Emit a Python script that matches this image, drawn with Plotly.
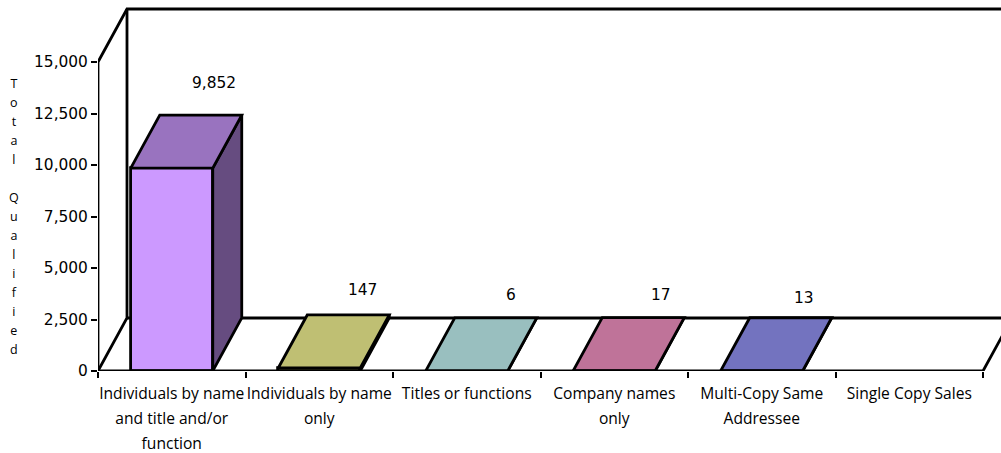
import plotly.graph_objects as go

categories = [
    "Individuals by name<br>and title and/or<br>function",
    "Individuals by name<br>only",
    "Titles or functions",
    "Company names<br>only",
    "Multi-Copy Same<br>Addressee",
    "Single Copy Sales",
]
values = [9852, 147, 6, 17, 13, None]
y_ticks = [0, 2500, 5000, 7500, 10000, 12500, 15000]
axis_title = "Total Qualified"
front_colors = ["#CC99FF", "#FFFF99", "#CCFFFF", "#FF99CC", "#9999FF", "#FFFFFF"]
top_colors = ["#9973BF", "#BFBF73", "#99BFBF", "#BF7399", "#7373BF", "#FFFFFF"]
side_colors = ["#664C80", "#80804D", "#668080", "#804D66", "#4D4D80", "#FFFFFF"]
label_xshift = [42, 43, 44, 47, 42, 0]
label_yshift = [32, 25, 23, 23, 20, 0]

W, H = 1001, 453
PLOT_L, PLOT_B = 98, 82
CAT_PX = 147.5
PX_PER_VAL = 309 / 15000
DX = 29 / CAT_PX
DY = 53 / PX_PER_VAL
BAR_W = 82 / CAT_PX
LW = 2.8
FONT = "Open Sans"
NUM_FONT = "DejaVu Sans"
X0, X1 = -0.5, len(categories) - 0.5
XMAX = X0 + (W - PLOT_L) / CAT_PX
YMAX = (H - PLOT_B) / PX_PER_VAL
YTOP = 15000
xs = list(range(len(categories)))

fig = go.Figure()

# front faces
fig.add_trace(go.Bar(
    x=xs, y=[v if v is not None else 0 for v in values], width=BAR_W,
    marker=dict(color=front_colors, line=dict(color="black", width=[LW] * 5 + [0])),
    hoverinfo="skip", showlegend=False,
))

# top and side faces
for i, v in enumerate(values):
    if v is None:
        continue
    l, r = i - BAR_W / 2, i + BAR_W / 2
    fig.add_trace(go.Scatter(
        x=[r, r + DX, r + DX, r, r], y=[0, DY, v + DY, v, 0],
        mode="lines", fill="toself", fillcolor=side_colors[i],
        line=dict(color="black", width=LW), hoverinfo="skip", showlegend=False,
    ))
    fig.add_trace(go.Scatter(
        x=[l, l + DX, r + DX, r, l], y=[v, v + DY, v + DY, v, v],
        mode="lines", fill="toself", fillcolor=top_colors[i],
        line=dict(color="black", width=LW), hoverinfo="skip", showlegend=False,
    ))

# chart walls that never cross a bar
wall = dict(mode="lines", line=dict(color="black", width=LW), hoverinfo="skip",
            showlegend=False, cliponaxis=False)
fig.add_trace(go.Scatter(x=[X0, X0, X0 + DX, XMAX], y=[0, YTOP, YTOP + DY, YTOP + DY], **wall))
fig.add_trace(go.Scatter(x=[X0, X0 + DX, X0 + DX], y=[0, DY, YTOP + DY], **wall))
fig.add_trace(go.Scatter(x=[X0, X1, X1 + DX], y=[0, 0, DY], **wall))

# back edge of the floor passes behind the bars
fig.add_shape(type="line", xref="x", yref="y", x0=X0 + DX, x1=XMAX, y0=DY, y1=DY,
              layer="below", line=dict(color="black", width=LW))

for i, v in enumerate(values):
    if v is None:
        continue
    fig.add_annotation(
        x=i, y=v + DY, xref="x", yref="y", text=f"{v:,}", showarrow=False,
        xshift=label_xshift[i], yshift=label_yshift[i], yanchor="middle",
        font=dict(family=NUM_FONT, size=15.4, color="black"),
    )

title_html = "<br>".join(c if c != " " else "&nbsp;" for c in axis_title)
fig.add_annotation(
    x=(14 - PLOT_L) / (W - PLOT_L), y=(371 - 216.5) / 371, xref="paper", yref="paper",
    showarrow=False, xanchor="center", yanchor="middle", align="center",
    text=f'<span style="font-size:12.5px">{title_html}</span>',
    font=dict(family=FONT, size=14.6, color="black"),
)

tick_label_px = 15.6
span_open = f'<span style="font-size:{tick_label_px}px">'
fig.update_layout(
    width=W, height=H, autosize=False,
    margin=dict(l=PLOT_L, r=0, t=0, b=PLOT_B, pad=0),
    paper_bgcolor="white", plot_bgcolor="white", showlegend=False, bargap=0,
    xaxis=dict(
        range=[X0, XMAX], tickmode="array", tickvals=xs,
        ticktext=[span_open + c.replace("<br>", "</span><br>" + span_open) + "</span>" for c in categories],
        ticks="", showgrid=False, zeroline=False, showline=False, tickangle=0,
        tickfont=dict(family=FONT, size=19.2, color="black"), ticklabelstandoff=8,
        automargin=False, fixedrange=True,
    ),
    yaxis=dict(
        range=[0, YMAX], tickmode="array", tickvals=y_ticks, tickformat=",",
        ticks="outside", ticklen=6, tickwidth=2, tickcolor="black",
        showgrid=False, zeroline=False, showline=False,
        tickfont=dict(family=NUM_FONT, size=15.4, color="black"),
        automargin=False, fixedrange=True,
    ),
    xaxis2=dict(
        overlaying="x", anchor="y", side="bottom", range=[X0, XMAX], tickmode="array",
        tickvals=[i - 0.5 for i in range(len(categories) + 1)], ticktext=[""] * 7,
        ticks="outside", ticklen=6, tickwidth=2, tickcolor="black",
        showgrid=False, zeroline=False, showline=False, fixedrange=True,
    ),
)

# x tick marks on the category boundaries, from the same x scale
fig.add_trace(go.Scatter(x=[X0], y=[0], xaxis="x2", mode="markers", marker=dict(opacity=0),
                         hoverinfo="skip", showlegend=False))

fig.write_html("out.html", config={"displayModeBar": False},
               post_script="document.body.style.margin='0';")
